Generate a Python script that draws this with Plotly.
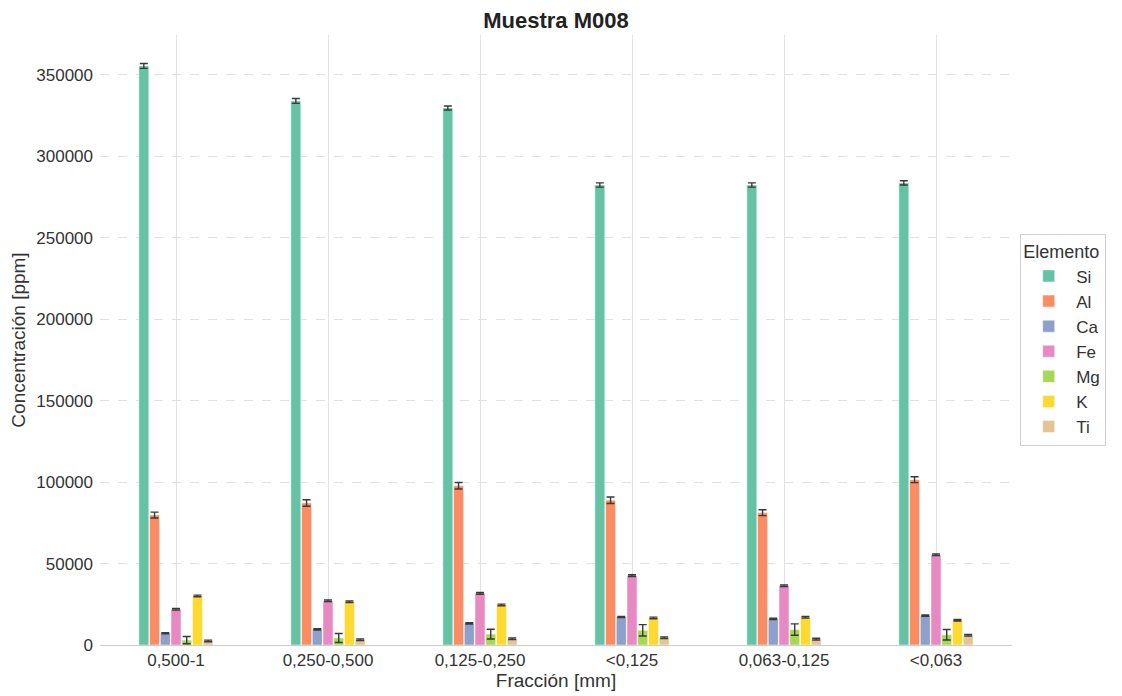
import plotly.graph_objects as go

fracciones = ["0,500-1", "0,250-0,500", "0,125-0,250", "<0,125", "0,063-0,125", "<0,063"]
elementos = ["Si", "Al", "Ca", "Fe", "Mg", "K", "Ti"]
colores = ["#66c2a5", "#fc8d62", "#8da0cb", "#e78ac3", "#a6d854", "#ffd92f", "#e5c494"]

Si = [355500, 334000, 329700, 282400, 282400, 283700]
Al = [79800, 87200, 97800, 88900, 81200, 101500]
Ca = [7200, 9600, 13300, 17200, 16000, 18000]
Fe = [21900, 27100, 31700, 42600, 36400, 55400]
Mg = [3000, 4300, 6700, 9000, 9500, 6300]
K = [30100, 26600, 24600, 16600, 17000, 15200]
Ti = [2500, 3200, 3800, 4400, 3600, 6000]

Si_err = [1500, 1500, 1200, 1300, 1300, 1300]
Al_err = [1800, 2000, 2000, 2000, 1800, 1800]
Ca_err = [400, 400, 400, 400, 400, 400]
Fe_err = [500, 500, 500, 500, 500, 500]
Mg_err = [2200, 2800, 3000, 3500, 3500, 3200]
K_err = [500, 500, 500, 500, 500, 500]
Ti_err = [500, 500, 500, 500, 500, 500]

valores = [Si, Al, Ca, Fe, Mg, K, Ti]
errores = [Si_err, Al_err, Ca_err, Fe_err, Mg_err, K_err, Ti_err]

fig = go.Figure()
for el, col, v, e in zip(elementos, colores, valores, errores):
    fig.add_trace(go.Bar(
        name=el, x=fracciones, y=v, marker_color=col,
        marker_line=dict(color="rgba(255,255,255,0.6)", width=0.8),
        error_y=dict(type="data", array=e, visible=True, color="#3a3a3a",
                     thickness=1.4, width=4),
    ))

font_family = "Liberation Sans, Arial, sans-serif"
W, H = 1114, 688
L, R, T, B = 92, 110, 27, 51
fig.update_layout(
    barmode="group",
    bargap=0.506,
    bargroupgap=0.07,
    width=W, height=H,
    margin=dict(l=L, r=R, t=T, b=B, autoexpand=False),
    paper_bgcolor="white", plot_bgcolor="white",
    font=dict(family=font_family, size=17, color="#333333"),
    title=dict(text="<b>Muestra M008</b>", x=(L + (W - R)) / 2 / W, xanchor="center",
               y=1 - 12 / H, yanchor="middle", font=dict(size=22, color="#222222")),
    legend=dict(title=dict(text="Elemento", font=dict(size=18)),
                x=1.009, xanchor="left", y=0.5, yanchor="middle",
                bordercolor="#d0d0d0", borderwidth=1, bgcolor="white",
                font=dict(size=17), itemwidth=45, tracegroupgap=2),
    xaxis=dict(title=dict(text="Fracción [mm]", font=dict(size=19), standoff=0),
               range=[-0.5, 5.5], showgrid=True, gridcolor="#e2e2e2", gridwidth=1,
               showline=True, linecolor="#cccccc", linewidth=1, ticks="",
               tickfont=dict(size=17), zeroline=False),
    yaxis=dict(title=dict(text="Concentración [ppm]", font=dict(size=19), standoff=6),
               range=[0, 374500], dtick=50000, tickformat="d", ticklabelstandoff=6,
               showgrid=True, gridcolor="#e0e0e0", griddash="dash", gridwidth=1,
               showline=False, zeroline=False, ticks="", tickfont=dict(size=17)),
)

fig.write_html("out.html")
